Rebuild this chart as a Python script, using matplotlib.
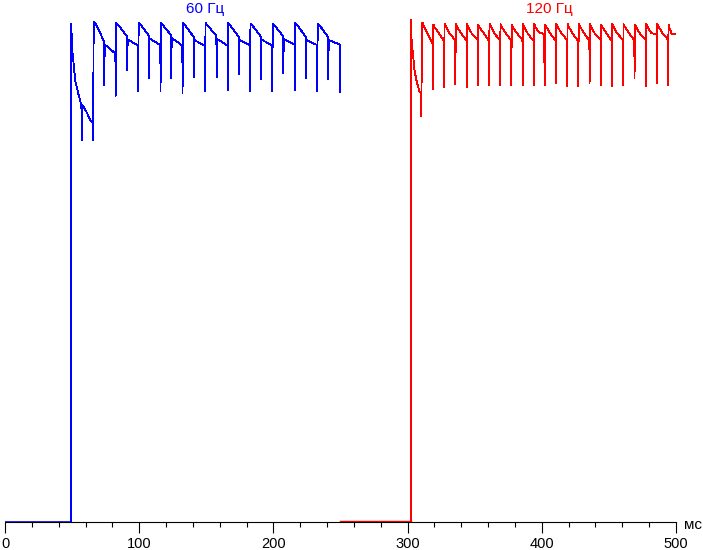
import matplotlib.pyplot as plt

# brightness traces, time in ms, level in % (0 = black, ~100 = full white)
# --- 60 Hz (blue) ---
blue_base_ms = [0.0, 49.0]
blue_base_lvl = [0.1, 0.1]
# rise and first (slow) frame
blue_first_ms = [49.0, 49.4, 49.9, 51.2, 52.4, 54.9, 56.9, 57.3, 57.6, 58.6, 61.1, 63.6, 65.3, 65.6]
blue_first_lvl = [0.1, 99.6, 95.1, 91.4, 88.1, 85.4, 83.4, 76.4, 83.4, 83.1, 81.8, 80.4, 79.8, 76.4]
# regular frames
blue_peak_ms = [66.1, 82.7, 99.6, 116.2, 132.6, 149.4, 166.2, 182.9, 199.5, 216.3, 233.0]
blue_peak_lvl = [100.0, 99.9, 99.9, 99.8, 99.8, 99.8, 99.8, 99.7, 99.7, 99.8, 99.7]
blue_mid_ms = [74.0, 91.1, 107.3, 123.9, 140.8, 157.7, 174.4, 190.8, 207.4, 224.3, 240.9]
blue_mid_lvl = [96.1, 97.1, 97.3, 97.4, 97.0, 97.2, 97.0, 97.1, 97.2, 97.0, 97.0]
blue_mid_dip = [87.4, 90.3, 88.7, 88.7, 89.0, 88.9, 89.6, 88.6, 89.7, 88.7, 88.6]
blue_end_lvl = [93.7, 95.3, 95.4, 95.3, 95.2, 95.3, 95.4, 95.3, 95.5, 95.4, 95.5]
blue_pre_dip = [85.1, 86.1, 86.1, 85.8, 86.2, 86.3, 86.1, 86.1, 86.3, 86.1, 85.9]
blue_stop_ms, blue_stop_lvl = 249.9, 92.0

# --- 120 Hz (red) ---
red_base_ms = [249.6, 302.5]
red_base_lvl = [0.2, 0.2]
red_first_ms = [302.5, 302.7, 303.0, 304.2, 304.9, 306.3, 307.5, 308.7, 309.8, 310.1]
red_first_lvl = [0.2, 100.4, 96.1, 93.1, 90.7, 88.7, 87.4, 86.2, 85.9, 81.1]
red_peak_ms = [311.0, 319.2, 327.5, 335.9, 344.3, 352.5, 361.0, 369.2, 377.6, 386.0, 394.3, 402.6,
               410.8, 419.2, 427.5, 435.9, 444.3, 452.5, 460.9, 469.4, 477.8, 486.0, 494.4]
red_peak_lvl = [99.9, 99.5, 99.7, 99.6, 99.6, 99.5, 99.7, 99.6, 99.5, 99.6, 99.6, 99.5,
                99.6, 99.6, 99.7, 99.6, 99.5, 99.6, 99.6, 99.5, 99.6, 99.7, 99.5]
red_mid_lvl = [97.8, 97.9, 97.7, 97.8, 97.6, 97.9, 97.7, 97.8, 97.8, 97.6, 97.9, 97.7,
               97.8, 97.7, 97.8, 97.6, 97.8, 97.7, 97.9, 97.7, 97.8, 97.8, 97.6]
red_end_lvl = [95.6, 96.2, 96.4, 96.3, 96.5, 96.2, 96.4, 96.3, 96.4, 96.2, 96.5, 96.3,
               96.4, 96.2, 96.3, 96.5, 96.2, 96.4, 96.3, 96.4, 96.2, 96.5, 97.6]
red_pre_dip = [86.5, 86.9, 87.5, 86.9, 87.4, 87.4, 87.3, 87.3, 87.3, 87.3, 87.4,
               87.7, 87.1, 87.2, 87.7, 87.4, 87.1, 87.4, 88.7, 87.1, 87.7, 87.4]
red_extra_ms = [401.6, 485.6]
red_extra_lvl = [92.0, 92.0]
red_stop_ms = 499.8

x_ticks = [0, 100, 200, 300, 400, 500]


def build_trace(first_t, first_v, peaks, peak_v, mids, mid_v, mid_d, ends, pre_d, stop_t, stop_v=None,
                extra_t=(), extra_v=()):
    t, v = list(first_t), list(first_v)
    for i, tp in enumerate(peaks):
        nxt = peaks[i + 1] if i + 1 < len(peaks) else stop_t
        span = nxt - tp
        pts = [(tp, peak_v[i]), (tp + 0.12 * span, peak_v[i] - 0.6)]
        if mids is not None:
            tm = mids[i]
            pts += [(tm - 0.2, mid_v[i]), (tm, mid_d[i]), (tm + 0.3, mid_v[i] - 0.6)]
        else:
            pts += [(tp + 0.45 * span, mid_v[i])]
        for et, ev in zip(extra_t, extra_v):
            if tp < et < nxt:
                pts += [(et - 0.1, mid_v[i] - 0.3), (et, ev), (et + 0.2, mid_v[i] - 0.5)]
        pts.sort()
        if i + 1 < len(peaks):
            pts += [(nxt - 0.45, ends[i]), (nxt - 0.3, pre_d[i])]
        else:
            if stop_v is not None:
                pts += [(nxt - 0.5, ends[i]), (nxt - 0.3, pre_d[-1]), (nxt, stop_v)]
            else:
                pts += [(nxt, ends[i])]
        for a, b in pts:
            t.append(a)
            v.append(b)
    return t, v


bt, bv = build_trace(blue_first_ms, blue_first_lvl, blue_peak_ms, blue_peak_lvl, blue_mid_ms,
                     blue_mid_lvl, blue_mid_dip, blue_end_lvl, blue_pre_dip, blue_stop_ms, blue_stop_lvl)
rt, rv = build_trace(red_first_ms, red_first_lvl, red_peak_ms, red_peak_lvl, None,
                     red_mid_lvl, None, red_end_lvl, red_pre_dip, red_stop_ms,
                     extra_t=red_extra_ms, extra_v=red_extra_lvl)

plt.rcParams['font.family'] = ['Liberation Sans', 'DejaVu Sans']

fig = plt.figure(figsize=(7.03, 5.5), dpi=100)
ax = fig.add_axes([5 / 703, 28 / 550, 671 / 703, 522 / 550])

ax.plot(blue_base_ms, blue_base_lvl, color='#0000ff', lw=1.2)
ax.plot(bt, bv, color='#0000ff', lw=0.6, antialiased=False)
ax.plot(red_base_ms, red_base_lvl, color='#ff0000', lw=1.0)
ax.plot(rt, rv, color='#ff0000', lw=0.6, antialiased=False)

ax.set_xlim(0, 500)
ax.set_ylim(0, 104.4)
for s in ['left', 'right', 'top']:
    ax.spines[s].set_visible(False)
ax.spines['bottom'].set_linewidth(0.8)
ax.set_yticks([])
ax.set_xticks(x_ticks)
ax.set_xticks(range(0, 501, 20), minor=True)
ax.tick_params(axis='x', which='major', length=8, width=0.8, labelsize=10.5, pad=2.5)
ax.tick_params(axis='x', which='minor', length=3.6, width=0.8)

ax.text(149, 102.7, '60 Гц', color='#0000ff', fontsize=11, ha='center', va='center', clip_on=False)
ax.text(406, 102.7, '120 Гц', color='#ff0000', fontsize=11, ha='center', va='center', clip_on=False)
fig.text(684 / 703, 1 - 525 / 550, 'мс', fontsize=11, ha='left', va='center')

fig.savefig('out.png', dpi=100)
